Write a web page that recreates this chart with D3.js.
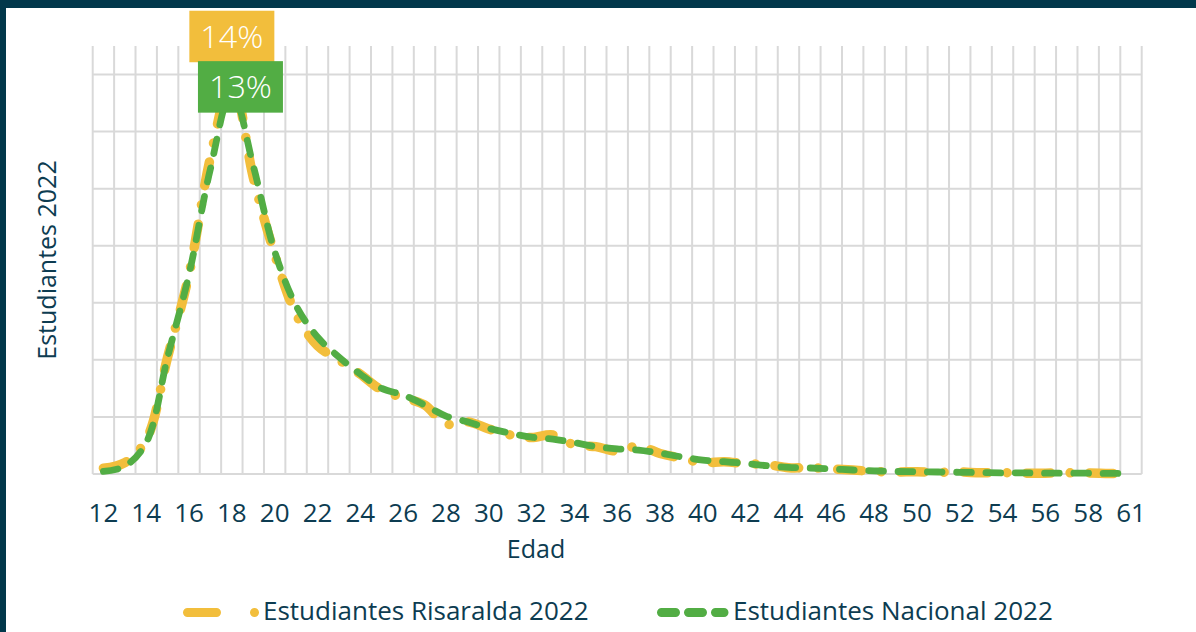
<!DOCTYPE html>
<html>
<head>
<meta charset="utf-8">
<script src="https://cdn.jsdelivr.net/npm/d3@7"></script>
<style>
  html, body { margin: 0; padding: 0; background: #ffffff; }
  svg { display: block; font-family: "Open Sans", "Noto Sans", sans-serif; }
</style>
</head>
<body>
<svg id="chart" width="1196" height="632"></svg>
<script>
// Ages (no students aged 60 in the series, so the axis jumps from 59 to 61)
const ages = ["12","13","14","15","16","17","18","19","20","21","22","23","24","25","26","27","28","29",
  "30","31","32","33","34","35","36","37","38","39","40","41","42","43","44","45","46","47","48","49",
  "50","51","52","53","54","55","56","57","58","59","61"];

// Share of students by age, Risaralda 2022
const risaralda = [0.0020,0.0040,0.0120,0.0410,0.0700,0.1110,0.1380,0.1040,0.0770,0.0560,0.0450,0.0400,
  0.0350,0.0294,0.0268,0.0242,0.0175,0.0183,0.0158,0.0137,0.0128,0.0137,0.0102,0.0096,0.0080,0.0098,
  0.0072,0.0055,0.0040,0.0043,0.0036,0.0033,0.0022,0.0022,0.0018,0.0014,0.0009,0.0007,0.0008,0.0006,
  0.0007,0.0004,0.0005,0.0003,0.0003,0.0004,0.0004,0.0002,0.0001];

// Share of students by age, national 2022
const nacional = [0.0009,0.0027,0.0110,0.0410,0.0700,0.1070,0.1340,0.1080,0.0780,0.0590,0.0480,0.0410,
  0.0350,0.0300,0.0277,0.0242,0.0203,0.0183,0.0160,0.0143,0.0129,0.0122,0.0110,0.0096,0.0088,0.0084,
  0.0073,0.0060,0.0049,0.0043,0.0037,0.0029,0.0023,0.0021,0.0018,0.0014,0.0011,0.0009,0.0008,0.0007,
  0.0006,0.0005,0.0004,0.0004,0.0003,0.0003,0.0003,0.0002,0.0002];

const seriesNames = ["Estudiantes Risaralda 2022", "Estudiantes Nacional 2022"];
const yTicks = [0, 0.02, 0.04, 0.06, 0.08, 0.10, 0.12, 0.14];
const peakAge = "18";

const W = 1196, H = 632;
const frameColor = "#02384b";
const textColor = "#0d3c51";
const gridColor = "#d9d9d9";
const yellow = "#f2be3c";
const green = "#52ad44";

const svg = d3.select("#chart");
svg.append("rect").attr("width", W).attr("height", H).attr("fill", "#fff");

// dark frame along the top and left edges
svg.append("rect").attr("x", 0).attr("y", 0).attr("width", W).attr("height", 8).attr("fill", frameColor);
svg.append("rect").attr("x", 0).attr("y", 0).attr("width", 6).attr("height", H).attr("fill", frameColor);

const plot = { left: 92.7, right: 1141.7, top: 46, bottom: 474 };

const x = d3.scaleBand().domain(ages).range([plot.left, plot.right]).padding(0);
const y = d3.scaleLinear().domain([0, 0.15]).range([plot.bottom, plot.top]);
const cx = a => x(a) + x.bandwidth() / 2;

// vertical gridlines on category boundaries
const bounds = ages.map(a => x(a)).concat([plot.right]);
svg.append("g").selectAll("line").data(bounds).join("line")
  .attr("x1", d => d).attr("x2", d => d)
  .attr("y1", plot.top).attr("y2", plot.bottom)
  .attr("stroke", gridColor).attr("stroke-width", 2);

// horizontal gridlines
svg.append("g").selectAll("line").data(yTicks).join("line")
  .attr("x1", plot.left).attr("x2", plot.right)
  .attr("y1", d => y(d)).attr("y2", d => y(d))
  .attr("stroke", gridColor).attr("stroke-width", 2);

// x axis labels, every other age
const xAxis = d3.axisBottom(x)
  .tickValues(ages.filter((a, i) => i % 2 === 0))
  .tickSize(0).tickPadding(0);
const gx = svg.append("g").attr("transform", `translate(0,${plot.bottom})`).call(xAxis);
gx.select(".domain").remove();
gx.selectAll("text")
  .attr("y", 48).attr("dy", null)
  .attr("font-size", 26).attr("font-family", "'Open Sans', sans-serif")
  .attr("fill", textColor);

// axis titles
svg.append("text").attr("x", 536).attr("y", 558)
  .attr("text-anchor", "middle").attr("font-size", 25).attr("fill", textColor).text("Edad");
svg.append("text").attr("transform", "translate(56,260) rotate(-90)")
  .attr("text-anchor", "middle").attr("font-size", 25).attr("fill", textColor).text("Estudiantes 2022");

// smoothed lines
const line = d3.line()
  .defined(d => d[1] != null)
  .x(d => cx(d[0])).y(d => y(d[1]))
  .curve(d3.curveCatmullRom.alpha(0.5));

svg.append("path")
  .datum(ages.map((a, i) => [a, risaralda[i]]))
  .attr("d", line).attr("fill", "none")
  .attr("stroke", yellow).attr("stroke-width", 9.5)
  .attr("stroke-linecap", "round").attr("stroke-linejoin", "round")
  .attr("stroke-dasharray", "24 19.5 0.01 19.5");

svg.append("path")
  .datum(ages.map((a, i) => [a, nacional[i]]))
  .attr("d", line).attr("fill", "none")
  .attr("stroke", green).attr("stroke-width", 6.8)
  .attr("stroke-linecap", "round").attr("stroke-linejoin", "round")
  .attr("stroke-dasharray", "14.7 14.6");

// peak value labels
const pct = d3.format(".0%");
const pi = ages.indexOf(peakAge);
const labels = [
  { value: risaralda[pi], color: yellow, dx: 0, bottomOffset: -18 },
  { value: nacional[pi], color: green, dx: 8.6, bottomOffset: 21 }
];
const boxW = 85, boxH = 51.5;
labels.forEach(l => {
  const px = cx(peakAge) + l.dx;
  const bottom = y(l.value) + l.bottomOffset;
  svg.append("rect")
    .attr("x", px - boxW / 2).attr("y", bottom - boxH)
    .attr("width", boxW).attr("height", boxH).attr("fill", l.color);
  svg.append("text")
    .attr("x", px).attr("y", bottom - 14.5)
    .attr("text-anchor", "middle").attr("font-size", 31).attr("font-weight", 300).attr("fill", "#fff")
    .attr("textLength", 63).attr("lengthAdjust", "spacingAndGlyphs")
    .text(pct(l.value));
});

// legend
const lg = svg.append("g");
lg.append("line").attr("x1", 187.5).attr("x2", 256).attr("y1", 612.5).attr("y2", 612.5)
  .attr("stroke", yellow).attr("stroke-width", 9).attr("stroke-linecap", "round")
  .attr("stroke-dasharray", "29 38 0.01 38");
lg.append("text").attr("x", 263).attr("y", 620).attr("font-size", 26).attr("fill", textColor)
  .text(seriesNames[0]);
lg.append("line").attr("x1", 661.5).attr("x2", 724).attr("y1", 612.5).attr("y2", 612.5)
  .attr("stroke", green).attr("stroke-width", 9).attr("stroke-linecap", "round")
  .attr("stroke-dasharray", "14 13");
lg.append("text").attr("x", 733).attr("y", 620).attr("font-size", 26).attr("fill", textColor)
  .text(seriesNames[1]);
</script>
</body>
</html>
